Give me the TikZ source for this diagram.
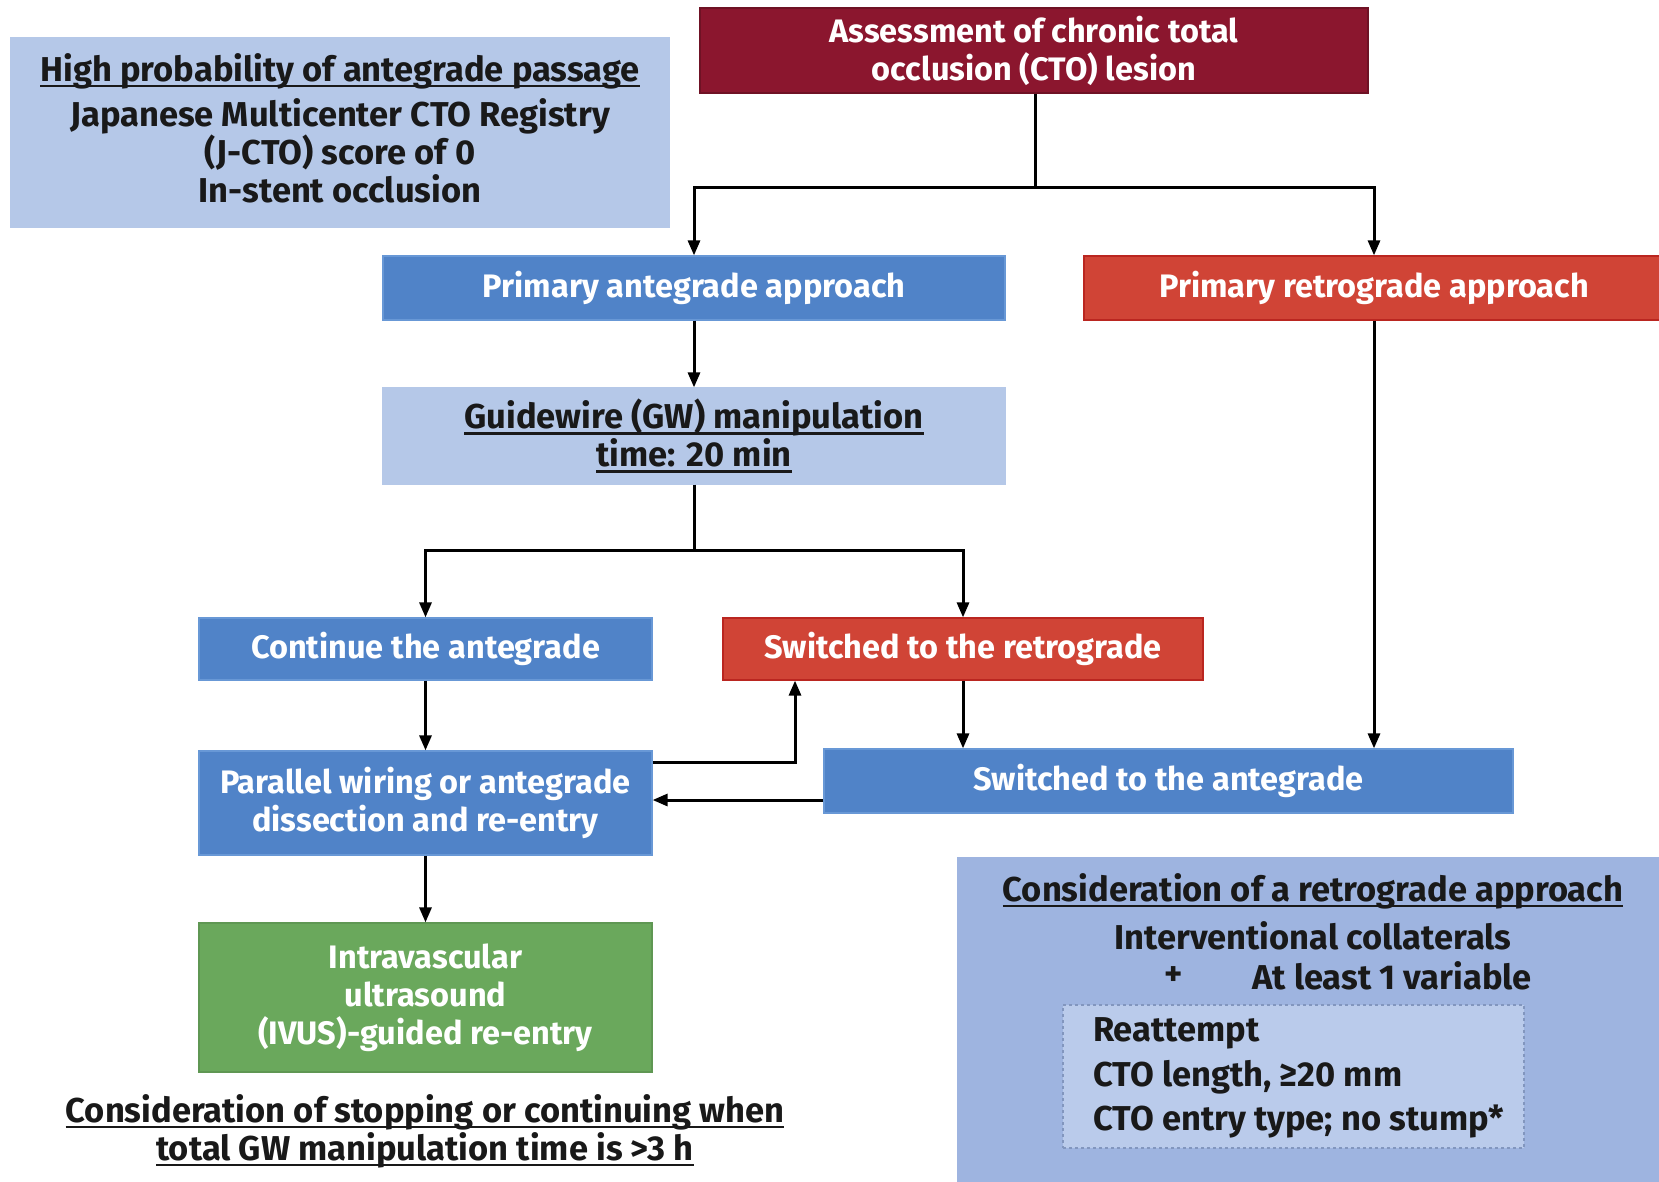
\documentclass[tikz,border=0pt]{standalone}
\usepackage{fontspec}
\setmainfont{Fira Sans}
\usetikzlibrary{arrows.meta,calc}

\definecolor{ctored}{RGB}{139,22,46}
\definecolor{retrored}{RGB}{208,68,54}
\definecolor{retroedge}{RGB}{186,38,32}
\definecolor{midblue}{RGB}{80,131,200}
\definecolor{blueedge}{RGB}{104,152,214}
\definecolor{paleblue}{RGB}{181,200,232}
\definecolor{consblue}{RGB}{158,180,224}
\definecolor{dashblue}{RGB}{186,203,235}
\definecolor{dashline}{RGB}{130,150,190}
\definecolor{ivusgreen}{RGB}{106,168,92}
\definecolor{ink}{RGB}{25,25,25}

% thick underline drawn as a rule under a boxed line of text
\newsavebox{\ulbox}
\newcommand{\ul}[1]{\sbox{\ulbox}{#1}\rlap{\rule[-6pt]{\wd\ulbox}{2.4pt}}\usebox{\ulbox}}

\tikzset{
  every node/.style={inner sep=0pt, align=center},
  basebox/.style={draw, line width=1.2pt, font=\fontsize{32.5}{38}\selectfont\bfseries},
  wine/.style={basebox, fill=ctored, draw=ctored!80!black, text=white},
  redbox/.style={basebox, fill=retrored, draw=retroedge, text=white},
  bluebox/.style={basebox, fill=midblue, draw=blueedge, text=white},
  palebox/.style={basebox, fill=paleblue, draw=paleblue, text=ink, font=\fontsize{34.5}{38}\selectfont\bfseries},
  greenbox/.style={basebox, fill=ivusgreen, draw=ivusgreen!90!black, text=white},
  arr/.style={line width=3pt, -{Triangle[length=15pt,width=12pt]}},
  plain/.style={line width=3pt},
  darktext/.style={text=ink, font=\fontsize{34.5}{38}\selectfont\bfseries},
}

\begin{document}
\begin{tikzpicture}[x=1pt,y=-1pt]
\useasboundingbox[fill=white] (0,0) rectangle (1659,1182);

% boxes of the flow chart
\node[wine, minimum width=668pt, minimum height=85pt] (cto) at (1034,50.5)
  {Assessment of chronic total\\occlusion (CTO) lesion};
\node[palebox, minimum width=658pt, minimum height=189pt] (high) at (340,132.5) {};
\node[darktext] (hightext) at (340,128)
  {\ul{High probability of antegrade passage}\\[7pt]Japanese Multicenter CTO Registry\\(J-CTO) score of 0\\In-stent occlusion};
\node[bluebox, minimum width=622pt, minimum height=64pt] (pa) at (694,288)
  {Primary antegrade approach};
\node[redbox, minimum width=580pt, minimum height=64pt] (pr) at (1374,288)
  {Primary retrograde approach};
\node[palebox, minimum width=622pt, minimum height=96pt] (gw) at (694,436)
  {\ul{Guidewire (GW) manipulation}\\\ul{time: 20 min}};
\node[bluebox, minimum width=453pt, minimum height=62pt] (ca) at (425.5,649)
  {Continue the antegrade};
\node[redbox, minimum width=480pt, minimum height=62pt] (sr) at (963,649)
  {Switched to the retrograde};
\node[bluebox, minimum width=453pt, minimum height=104pt] (pw) at (425.5,803)
  {Parallel wiring or antegrade\\dissection and re-entry};
\node[bluebox, minimum width=689pt, minimum height=64pt] (sa) at (1168.5,781)
  {Switched to the antegrade};
\node[greenbox, minimum width=453pt, minimum height=149pt] (ivus) at (425.5,997.5)
  {Intravascular\\ultrasound\\(IVUS)-guided re-entry};

% note below the re-entry box
\node[darktext] (stop) at (425,1131)
  {\ul{Consideration of stopping or continuing when}\\\ul{total GW manipulation time is >3 h}};

% retrograde consideration panel
\node[fill=consblue, minimum width=704pt, minimum height=330pt] (cons) at (1309,1022) {};
\node[darktext] (constitle) at (1313,891) {\ul{Consideration of a retrograde approach}};
\node[darktext] (coll) at (1313,936) {Interventional collaterals};
\node[darktext] (plus) at (1174,976) {+};
\node[darktext, anchor=west] (least) at (1252,976) {At least 1 variable};
\node[fill=dashblue, draw=dashline, dashed, line width=1.5pt,
      minimum width=461pt, minimum height=143pt] (dash) at (1293.5,1076.5) {};
\node[darktext, anchor=west, align=left, font=\fontsize{34.5}{44.5}\selectfont\bfseries] (vars) at (1093,1078)
  {Reattempt\\CTO length, ≥20 mm\\CTO entry type; no stump*};

% connectors
\coordinate (split1) at (1035,188);
\coordinate (split2) at (694,550);
\draw[plain] (cto.south -| split1) -- (split1);
\draw[arr] (split1) -| (pa.north);
\draw[arr] (split1) -| (pr.north);
\draw[arr] (pa.south) -- (gw.north);
\draw[plain] (gw.south) -- (split2);
\draw[arr] (split2) -| (ca.north);
\draw[arr] (split2) -| (sr.north);
\draw[arr] (ca.south) -- (pw.north);
\draw[arr] (sr.south) -- (sr.south |- sa.north);
\draw[arr] (pr.south) -- (pr.south |- sa.north);
\coordinate (loop) at (795,762);
\draw[arr] (pw.east |- loop) -- (loop) -- (loop |- sr.south);
\coordinate (back) at (824,800);
\draw[arr] (sa.west |- back) -- (pw.east |- back);
\draw[arr] (pw.south) -- (ivus.north);
\end{tikzpicture}
\end{document}
